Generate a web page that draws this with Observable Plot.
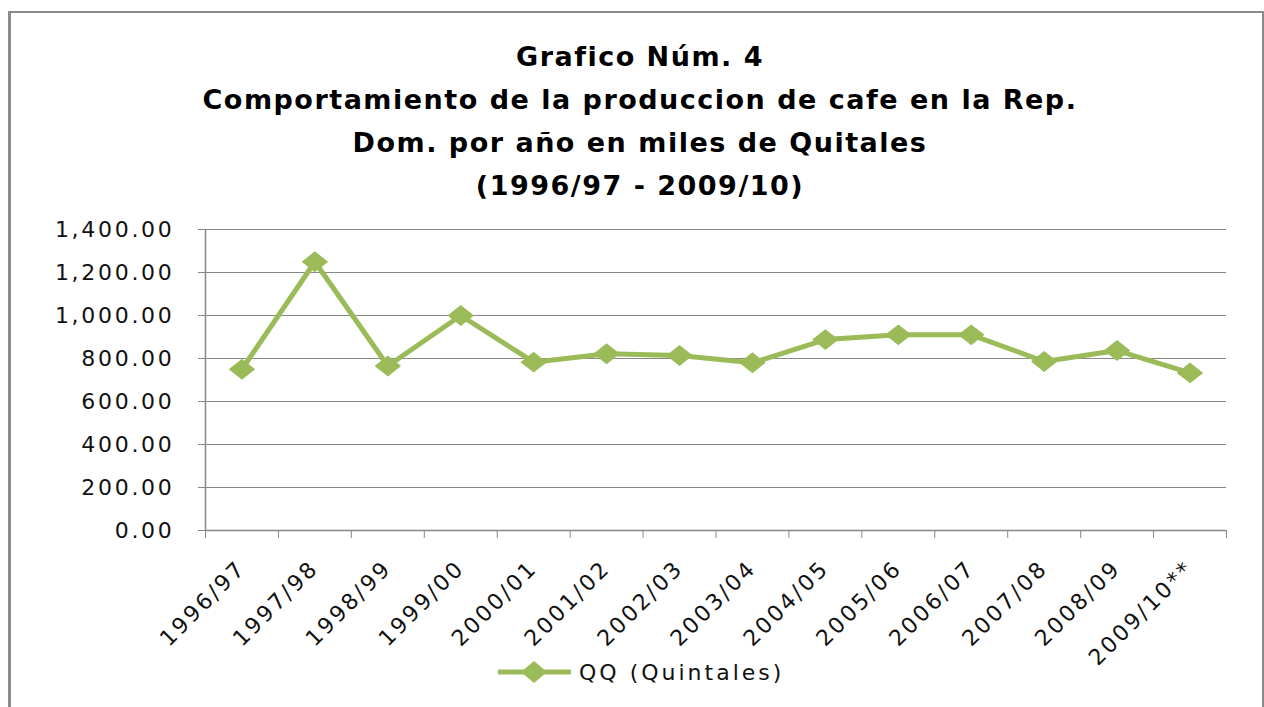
<!DOCTYPE html>
<html>
<head>
<meta charset="utf-8">
<script src="https://cdn.jsdelivr.net/npm/d3@7"></script>
<script src="https://cdn.jsdelivr.net/npm/@observablehq/plot@0.6"></script>
<style>
  html, body { margin: 0; padding: 0; background: #fff; }
  #wrap { position: relative; width: 1264px; height: 707px; overflow: hidden; background: #fff; }
  #frame { position: absolute; left: 8px; top: 11px; width: 1251px; height: 720px;
           border-left: 3px solid #8a8a8a; border-top: 2px solid #8a8a8a; border-right: 2px solid #8a8a8a; }
  #title { position: absolute; left: 0; top: 35px; width: 1280px; text-align: center;
           font-family: "DejaVu Sans", sans-serif; font-weight: bold; font-size: 27px;
           line-height: 43px; letter-spacing: 1.5px; color: #000; }
  #chart { position: absolute; left: 0; top: 0; }
  #chart svg text { letter-spacing: 2.7px; }
  #legend { position: absolute; left: 497px; top: 657px; display: flex; align-items: center;
            font-family: "DejaVu Sans", sans-serif; font-size: 22px; letter-spacing: 3px; color: #111; }
</style>
</head>
<body>
<div id="wrap">
  <div id="frame"></div>
  <div id="chart"></div>
  <div id="title"></div>
  <div id="legend"></div>
</div>
<script>
// ---- data ----
const categories = ["1996/97", "1997/98", "1998/99", "1999/00", "2000/01", "2001/02", "2002/03",
                    "2003/04", "2004/05", "2005/06", "2006/07", "2007/08", "2008/09", "2009/10**"];
const production = [750, 1250, 765, 1000, 783, 822, 814, 780, 888, 910, 910, 786, 837, 733];
const yTicks = [0, 200, 400, 600, 800, 1000, 1200, 1400];
const titleLines = ["Grafico Núm. 4",
                    "Comportamiento de la produccion de cafe en la Rep.",
                    "Dom. por año en miles de Quitales",
                    "(1996/97 - 2009/10)"];
const seriesName = "QQ (Quintales)";

const green = "#9BBB59";
const gray = "#878787";

const data = categories.map((c, i) => ({category: c, pos: i + 0.5, value: production[i]}));
const centers = categories.map((c, i) => i + 0.5);
const boundaries = d3.range(categories.length + 1);

const wideDiamond = {
  draw(ctx, size) {
    const r = Math.sqrt(size / Math.PI);
    const w = r * 1.2, h = r * 0.95;
    ctx.moveTo(0, -h); ctx.lineTo(w, 0); ctx.lineTo(0, h); ctx.lineTo(-w, 0); ctx.closePath();
  }
};

const chart = Plot.plot({
  width: 1264,
  height: 707,
  marginLeft: 205,
  marginRight: 38,
  marginTop: 229,
  marginBottom: 177,
  style: {fontFamily: "DejaVu Sans", background: "transparent", overflow: "visible"},
  x: {domain: [0, categories.length], axis: null},
  y: {domain: [0, 1400], axis: null},
  marks: [
    Plot.gridY(yTicks, {stroke: gray, strokeOpacity: 1, strokeWidth: 1}),
    Plot.ruleX([0], {stroke: gray, strokeWidth: 1.5}),
    Plot.ruleY([0], {stroke: gray, strokeWidth: 1.5}),
    Plot.axisY(yTicks, {tickFormat: d3.format(",.2f"), tickSize: 7, tickPadding: 24, fontSize: 22,
                        stroke: gray, fill: "#111", label: null}),
    Plot.axisX(boundaries, {tickSize: 8, tickFormat: () => "", stroke: gray, label: null}),
    Plot.axisX(centers, {tickFormat: p => categories[Math.round(p - 0.5)], tickRotate: -45,
                         tickSize: 0, tickPadding: 34, fontSize: 22, fill: "#111", label: null}),
    Plot.line(data, {x: "pos", y: "value", stroke: green, strokeWidth: 5}),
    Plot.dot(data, {x: "pos", y: "value", r: 11, symbol: wideDiamond, fill: green, stroke: null})
  ]
});
document.getElementById("chart").appendChild(chart);

// title
const t = document.getElementById("title");
titleLines.forEach(l => { const d = document.createElement("div"); d.textContent = l; t.appendChild(d); });

// legend
const lg = document.getElementById("legend");
lg.innerHTML = `<svg width="76" height="30" style="margin-right:6px">
  <line x1="1" y1="15" x2="74" y2="15" stroke="${green}" stroke-width="5"/>
  <path d="M37,4 L50,15 L37,26 L24,15 Z" fill="${green}"/></svg>`;
const span = document.createElement("span");
span.textContent = seriesName;
lg.appendChild(span);
</script>
</body>
</html>
